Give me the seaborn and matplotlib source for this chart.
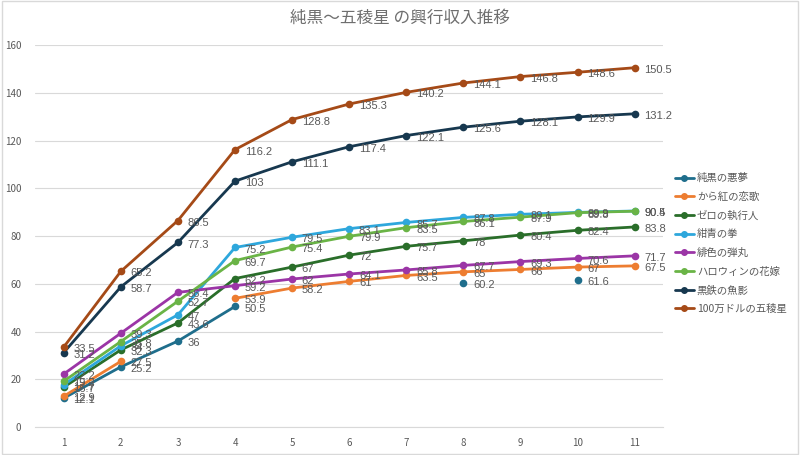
import numpy as np
import pandas as pd
import matplotlib
matplotlib.use("Agg")
import matplotlib.pyplot as plt
from matplotlib.lines import Line2D
from matplotlib.patches import Rectangle
import seaborn as sns

weeks = list(range(1, 12))
nan = np.nan
names = ["純黒の悪夢", "から紅の恋歌", "ゼロの執行人", "紺青の拳", "緋色の弾丸",
         "ハロウィンの花嫁", "黒鉄の魚影", "100万ドルの五稜星"]
junkoku = [12.1, 25.2, 36, 50.5, nan, nan, nan, 60.2, nan, 61.6, nan]
karakurenai = [12.9, 27.5, nan, 53.9, 58.2, 61, 63.5, 65, 66, 67, 67.5]
zero = [16.7, 32.3, 43.6, 62.2, 67, 72, 75.7, 78, 80.4, 82.4, 83.8]
konjo = [17.7, 34.0, 47, 75.2, 79.5, 83.1, 85.7, 87.8, 89.1, 89.9, 90.5]
hiiro = [22.2, 39.3, 56.4, 59.2, 62, 64.1, 65.8, 67.7, 69.3, 70.6, 71.7]
halloween = [19.2, 35.8, 52.7, 69.7, 75.4, 79.9, 83.5, 86.1, 87.9, 89.8, 90.4]
kurogane = [31.2, 58.7, 77.3, 103, 111.1, 117.4, 122.1, 125.6, 128.1, 129.9, 131.2]
million = [33.5, 65.2, 86.5, 116.2, 128.8, 135.3, 140.2, 144.1, 146.8, 148.6, 150.5]
series = [junkoku, karakurenai, zero, konjo, hiiro, halloween, kurogane, million]
colors = ["#1f6e8c", "#ed7d31", "#2a6e2a", "#2ea7dc", "#9b35a6", "#6ab446", "#17384f", "#a54a17"]

sns.set_style("white")
plt.rcParams['font.family'] = ['Noto Sans CJK JP', 'DejaVu Sans']

fig = plt.figure(figsize=(8, 4.55), dpi=100)
ax = fig.add_axes([0.044, 0.0615, 0.785, 0.8395])

rows = []
for name, vals in zip(names, series):
    seg = 0
    prev = False
    for w, v in zip(weeks, vals):
        if np.isnan(v):
            prev = False
            continue
        if not prev:
            seg += 1
        prev = True
        rows.append({"週": w, "興収": v, "作品": name, "seg": seg})
df = pd.DataFrame(rows)

for name, col in zip(names, colors):
    sub = df[df["作品"] == name]
    sns.lineplot(data=sub, x="週", y="興収", units="seg", estimator=None,
                 color=col, marker="o", markersize=5.5, markeredgewidth=0,
                 linewidth=2, ax=ax, legend=False)
    for _, r in sub.iterrows():
        v = r["興収"]
        lab = f"{v:g}"
        ax.annotate(lab, (r["週"], v), xytext=(7, -1.5), textcoords="offset points",
                    va="center", ha="left", fontsize=8, color="#595959",
                    family=["Liberation Sans", "DejaVu Sans"])

ax.set_xlim(0.5, 11.5)
ax.set_ylim(0, 160)
ax.set_xticks(weeks)
ax.set_yticks(range(0, 161, 20))
ax.set_xlabel("")
ax.set_ylabel("")
ax.grid(axis="y", color="#d9d9d9", linewidth=0.8)
ax.grid(axis="x", visible=False)
for s in ["top", "right", "left"]:
    ax.spines[s].set_visible(False)
ax.spines["bottom"].set_color("#d9d9d9")
ax.tick_params(axis="both", length=0, labelsize=7, colors="#595959")
ax.tick_params(axis="x", pad=8)
ax.tick_params(axis="y", pad=10)

handles = [Line2D([], [], color=c, marker="o", markersize=4, linewidth=2) for c in colors]
leg = fig.legend(handles, names, loc="upper left", bbox_to_anchor=(0.832, 0.64),
                 frameon=False, fontsize=7.5, handlelength=1.8, handletextpad=0.3,
                 labelspacing=0.82, labelcolor="#595959")

fig.text(0.5, 0.96, "純黒～五稜星 の興行収入推移", ha="center", va="center",
         fontsize=12, color="#6f6f6f")

fig.patches.append(Rectangle((0.002, 0.003), 0.996, 0.994, transform=fig.transFigure,
                             fill=False, edgecolor="#d9d9d9", linewidth=1))

fig.savefig("out.png", dpi=100)
